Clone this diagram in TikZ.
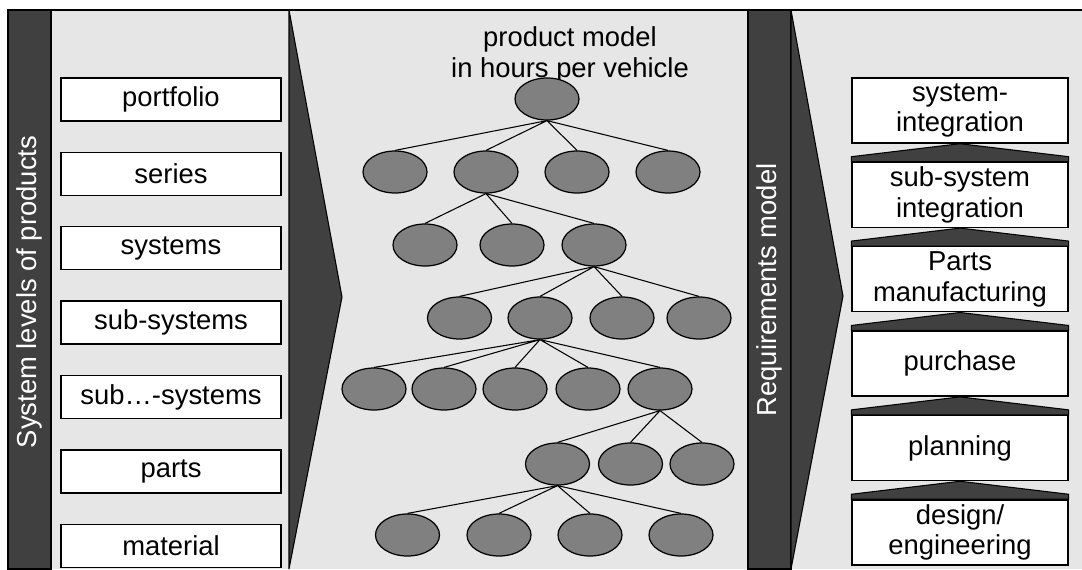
\documentclass[tikz,border=0pt]{standalone}
\usepackage{fontspec}
\setmainfont{Liberation Sans}
\usetikzlibrary{positioning, shapes.geometric}

\definecolor{balken}{HTML}{404040}
\definecolor{grund}{HTML}{E6E6E6}
\definecolor{knotengrau}{HTML}{808080}

\begin{document}
\begin{tikzpicture}[
		x=0.02cm, y=0.02cm, % 1 Einheit = 1 Pixel
		font=\fontsize{15.6}{17.5}\selectfont,
		node distance=0.6cm,
		% --- Stile ---
		ebene/.style={
			draw, 
			rectangle, 
			fill=white, 
			line width=0.8pt,
			minimum width=4.4cm, 
			minimum height=0.86cm, 
			inner sep=0pt
		},
		schritt/.style={
			draw, 
			rectangle, 
			fill=white, 
			line width=0.8pt,
			minimum width=4.32cm, 
			minimum height=1.3cm, 
			inner sep=0pt, 
			align=center
		},
		knoten/.style={
			draw, 
			ellipse, 
			fill=knotengrau, 
			line width=0.7pt,
			minimum width=1.28cm, 
			minimum height=0.84cm, 
			inner sep=0pt
		},
		ast/.style={line width=0.6pt},
		dunkel/.style={fill=balken, draw=black, line width=0.6pt},
		balkentext/.style={rotate=90, text=white}
		]
		\useasboundingbox (0,0) rectangle (1082,-569);
		
		% 1. Hintergrund, Balken und Keile
		\fill[grund] (8,-10) rectangle (1082,-569);
		\draw[line width=0.8pt] (8,-10) -- (1082,-10);
		\draw[dunkel] (8,-10) rectangle (51,-569);
		\draw[dunkel] (289,-10) -- (342,-297) -- (289,-569) -- cycle;
		\draw[dunkel] (748,-10) rectangle (791,-569);
		\draw[dunkel] (791,-10) -- (843,-296) -- (791,-569) -- cycle;
		
		\node[balkentext] (links) at (29.5,-292) {System levels of products};
		\node[balkentext] (rechts) at (769.5,-290) {Requirements model};
		
		% 2. Systemebenen (links)
		\node[ebene] (portfolio) at (171,-99.5) {portfolio};
		\node[ebene, below=of portfolio] (series) {series};
		\node[ebene, below=of series] (systems) {systems};
		\node[ebene, below=of systems] (subsystems) {sub-systems};
		\node[ebene, below=of subsystems] (subsubsystems) {sub…-systems};
		\node[ebene, below=of subsubsystems] (parts) {parts};
		\node[ebene, below=of parts] (material) {material};
		
		% 3. Produktmodell (Mitte)
		\node[align=center] (titel) at (570,-55) {product model\\in hours per vehicle};
		
		\node[knoten] (k1) at (547,-99) {};
		
		\node[knoten] (k21) at (395,-172) {};
		\node[knoten] (k22) at (486,-172) {};
		\node[knoten] (k23) at (577,-172) {};
		\node[knoten] (k24) at (668,-172) {};
		
		\node[knoten] (k31) at (425,-245) {};
		\node[knoten] (k32) at (512,-245) {};
		\node[knoten] (k33) at (594,-245) {};
		
		\node[knoten] (k41) at (459.5,-318) {};
		\node[knoten] (k42) at (540,-318) {};
		\node[knoten] (k43) at (622,-318) {};
		\node[knoten] (k44) at (699,-318) {};
		
		\node[knoten] (k51) at (374,-389) {};
		\node[knoten] (k52) at (444,-389) {};
		\node[knoten] (k53) at (515,-389) {};
		\node[knoten] (k54) at (588,-389) {};
		\node[knoten] (k55) at (660,-389) {};
		
		\node[knoten] (k61) at (557.5,-464) {};
		\node[knoten] (k62) at (630.5,-464) {};
		\node[knoten] (k63) at (702,-464) {};
		
		\node[knoten] (k71) at (407.5,-535) {};
		\node[knoten] (k72) at (499,-535) {};
		\node[knoten] (k73) at (590,-535) {};
		\node[knoten] (k74) at (681,-535) {};
		
		% Kanten des Baums
		\draw[ast] (k1.south) -- (k21.north) (k1.south) -- (k22.north)
		(k1.south) -- (k23.north) (k1.south) -- (k24.north);
		\draw[ast] (k22.south) -- (k31.north) (k22.south) -- (k32.north)
		(k22.south) -- (k33.north);
		\draw[ast] (k33.south) -- (k41.north) (k33.south) -- (k42.north)
		(k33.south) -- (k43.north) (k33.south) -- (k44.north);
		\draw[ast] (k42.south) -- (k51.north) (k42.south) -- (k52.north)
		(k42.south) -- (k53.north) (k42.south) -- (k54.north)
		(k42.south) -- (k55.north);
		\draw[ast] (k55.south) -- (k61.north) (k55.south) -- (k62.north)
		(k55.south) -- (k63.north);
		\draw[ast] (k61.south) -- (k71.north) (k61.south) -- (k72.north)
		(k61.south) -- (k73.north) (k61.south) -- (k74.north);
		
		% 4. Anforderungsmodell (rechts)
		\node[schritt] (sysint) at (960,-110.5) {system-\\integration};
		\node[schritt, below=0.36cm of sysint] (subint) {sub-system\\integration};
		\node[schritt, below=0.36cm of subint] (fertigung) {Parts\\manufacturing};
		\node[schritt, below=0.36cm of fertigung] (purchase) {purchase};
		\node[schritt, below=0.36cm of purchase] (planning) {planning};
		\node[schritt, below=0.36cm of planning] (design) {design/\\engineering};
		
		% Keile zwischen den Schritten
		\draw[dunkel] (sysint.south) -- ([yshift=-0.26cm]sysint.south east) |- (subint.north)
		-| ([yshift=-0.26cm]sysint.south west) -- cycle;
		\draw[dunkel] (subint.south) -- ([yshift=-0.26cm]subint.south east) |- (fertigung.north)
		-| ([yshift=-0.26cm]subint.south west) -- cycle;
		\draw[dunkel] (fertigung.south) -- ([yshift=-0.26cm]fertigung.south east) |- (purchase.north)
		-| ([yshift=-0.26cm]fertigung.south west) -- cycle;
		\draw[dunkel] (purchase.south) -- ([yshift=-0.26cm]purchase.south east) |- (planning.north)
		-| ([yshift=-0.26cm]purchase.south west) -- cycle;
		\draw[dunkel] (planning.south) -- ([yshift=-0.26cm]planning.south east) |- (design.north)
		-| ([yshift=-0.26cm]planning.south west) -- cycle;
		
	\end{tikzpicture}
\end{document}
